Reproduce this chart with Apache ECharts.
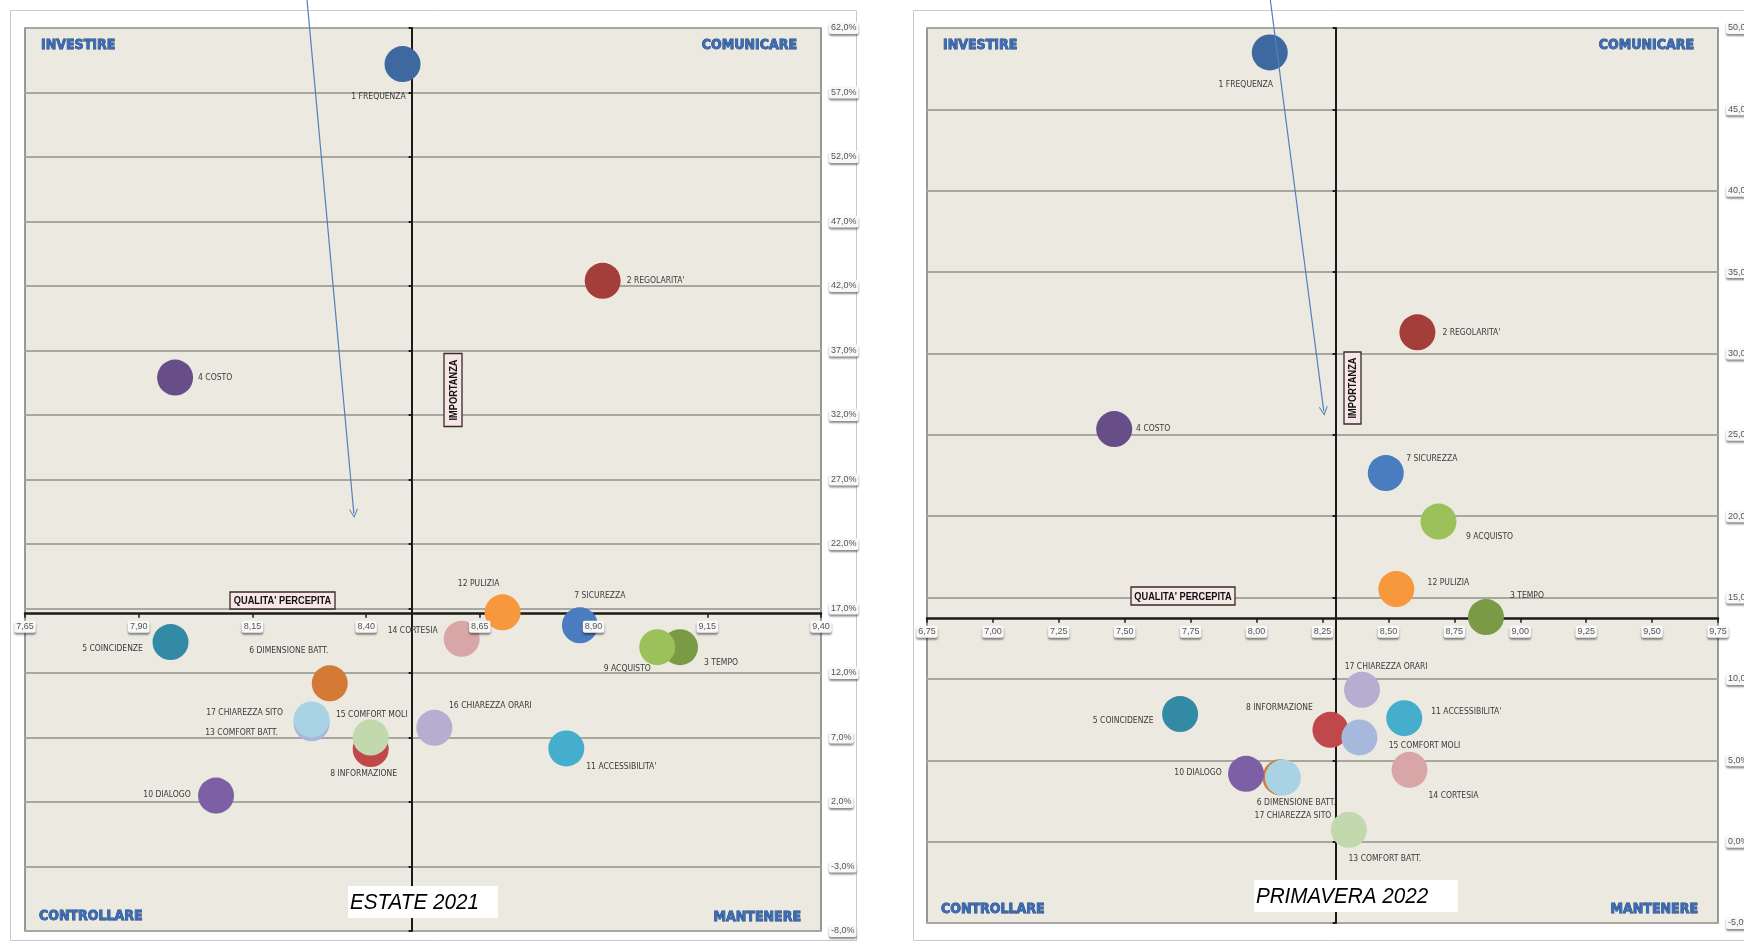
<!DOCTYPE html>
<html>
<head>
<meta charset="utf-8">
<script src="https://cdn.jsdelivr.net/npm/echarts@6/dist/echarts.min.js"></script>
<style>
  html, body { margin: 0; padding: 0; background: #fff; }
  #chart { width: 1744px; height: 942px; }
</style>
</head>
<body>
<div id="chart"></div>
<script>
// ---------- ESTATE 2021: perceived quality (x) vs importance (y, %) ----------
const estateNames = ['1 FREQUENZA', "2 REGOLARITA'", '3 TEMPO', '4 COSTO', '5 COINCIDENZE',
  '6 DIMENSIONE BATT.', '7 SICUREZZA', '8 INFORMAZIONE', '9 ACQUISTO', '10 DIALOGO',
  "11 ACCESSIBILITA'", '12 PULIZIA', '13 COMFORT BATT.', '14 CORTESIA', '15 COMFORT MOLI',
  '16 CHIAREZZA ORARI', '17 CHIAREZZA SITO'];
const estateQuality = [8.48, 8.92, 9.09, 7.98, 7.97, 8.32, 8.87, 8.41, 9.04, 8.07,
  8.84, 8.70, 8.28, 8.61, 8.41, 8.55, 8.28];
const estateImportance = [59.2, 42.4, 14.0, 34.9, 14.4, 11.2, 15.7, 6.1, 14.0, 2.5,
  6.15, 16.7, 8.1, 14.65, 7.0, 7.75, 8.4];
const estateXTicks = [7.65, 7.90, 8.15, 8.40, 8.65, 8.90, 9.15, 9.40];
const estateYTicks = [-8, -3, 2, 7, 12, 17, 22, 27, 32, 37, 42, 47, 52, 57, 62];
const estateCross = [8.50, 16.6];               // quadrant split: quality, importance
const estateArrow = [[8.27, 64.2], [8.373, 24.36]];

// ---------- PRIMAVERA 2022 ----------
const primaveraNames = ['1 FREQUENZA', "2 REGOLARITA'", '3 TEMPO', '4 COSTO', '5 COINCIDENZE',
  '6 DIMENSIONE BATT.', '7 SICUREZZA', '8 INFORMAZIONE', '9 ACQUISTO', '10 DIALOGO',
  "11 ACCESSIBILITA'", '12 PULIZIA', '13 COMFORT BATT.', '14 CORTESIA', '15 COMFORT MOLI',
  '17 CHIAREZZA ORARI', '17 CHIAREZZA SITO'];
const primaveraQuality = [8.05, 8.61, 8.87, 7.46, 7.71, 8.09, 8.49, 8.28, 8.69, 7.96,
  8.56, 8.53, 8.35, 8.58, 8.39, 8.40, 8.10];
const primaveraImportance = [48.5, 31.3, 13.8, 25.35, 7.84, 3.95, 22.65, 6.87, 19.67, 4.17,
  7.59, 15.52, 0.73, 4.41, 6.4, 9.33, 3.94];
const primaveraXTicks = [6.75, 7.00, 7.25, 7.50, 7.75, 8.00, 8.25, 8.50, 8.75, 9.00, 9.25, 9.50, 9.75];
const primaveraYTicks = [-5, 0, 5, 10, 15, 20, 25, 30, 35, 40, 45, 50];
const primaveraCross = [8.30, 13.7];
const primaveraArrow = [[8.052, 51.74], [8.255, 26.45]];

// ---------- styles ----------
const estateColors = {
  '1 FREQUENZA': '#3E69A0', "2 REGOLARITA'": '#A33E3B', '3 TEMPO': '#7A9A45', '4 COSTO': '#684E88',
  '5 COINCIDENZE': '#338AA5', '6 DIMENSIONE BATT.': '#D27A36', '7 SICUREZZA': '#4A7DC0',
  '8 INFORMAZIONE': '#C0474A', '9 ACQUISTO': '#9BC25A', '10 DIALOGO': '#7C5FA5',
  "11 ACCESSIBILITA'": '#45AECD', '12 PULIZIA': '#F7983D', '13 COMFORT BATT.': '#A6B8DC',
  '14 CORTESIA': '#D9A6A8', '15 COMFORT MOLI': '#C4D8AD', '16 CHIAREZZA ORARI': '#B6ADD1',
  '17 CHIAREZZA SITO': '#A9D2E4'
};
const primaveraColors = Object.assign({}, estateColors, {
  '13 COMFORT BATT.': '#C4D8AD', '15 COMFORT MOLI': '#A6B8DC', '17 CHIAREZZA ORARI': '#B6ADD1'
});
// label offset from bubble centre, px
const estateLabelOffset = {
  '1 FREQUENZA': [-24, 33], "2 REGOLARITA'": [53, 0], '3 TEMPO': [41, 16], '4 COSTO': [40, 0],
  '5 COINCIDENZE': [-58, 7], '6 DIMENSIONE BATT.': [-41, -33], '7 SICUREZZA': [20, -29],
  '8 INFORMAZIONE': [-7, 25], '9 ACQUISTO': [-30, 22], '10 DIALOGO': [-49, -1],
  "11 ACCESSIBILITA'": [55, 18], '12 PULIZIA': [-24, -29], '13 COMFORT BATT.': [-70, 9],
  '14 CORTESIA': [-49, -8], '15 COMFORT MOLI': [1, -23], '16 CHIAREZZA ORARI': [56, -22],
  '17 CHIAREZZA SITO': [-67, -7]
};
const primaveraLabelOffset = {
  '1 FREQUENZA': [-24, 32], "2 REGOLARITA'": [54, 0], '3 TEMPO': [41, -21], '4 COSTO': [39, 0],
  '5 COINCIDENZE': [-57, 7], '6 DIMENSIONE BATT.': [16, 25], '7 SICUREZZA': [46, -14],
  '8 INFORMAZIONE': [-51, -22], '9 ACQUISTO': [51, 15], '10 DIALOGO': [-48, -1],
  "11 ACCESSIBILITA'": [62, -6], '12 PULIZIA': [52, -6], '13 COMFORT BATT.': [36, 29],
  '14 CORTESIA': [44, 26], '15 COMFORT MOLI': [65, 8], '17 CHIAREZZA ORARI': [24, -23],
  '17 CHIAREZZA SITO': [10, 38]
};

const NARROW = '"Liberation Sans Narrow", "DejaVu Sans Condensed", "Liberation Sans", sans-serif';
const SANS = '"Liberation Sans", Arial, sans-serif';

const gridA = { left: 25, top: 28, width: 796, height: 903 };
const gridB = { left: 927, top: 28, width: 791, height: 895 };

const fmtX = v => v.toFixed(2).replace('.', ',');
const fmtY = v => v.toFixed(1).replace('.', ',') + '%';

const tabLabel = {
  color: '#555', fontSize: 9, fontFamily: SANS,
  backgroundColor: '#f8f8f8', borderRadius: 2, padding: [1, 2, 2, 2],
  shadowColor: 'rgba(0,0,0,0.45)', shadowBlur: 2, shadowOffsetY: 2
};

function axesFor(gridIndex, g, xt, yt, cross) {
  const xMin = xt[0], xMax = xt[xt.length - 1], xInt = xt[1] - xt[0];
  const yMin = yt[0], yMax = yt[yt.length - 1], yInt = yt[1] - yt[0];
  const xOff = -g.height * (cross[1] - yMin) / (yMax - yMin);
  const yOff = -g.width * (cross[0] - xMin) / (xMax - xMin);
  const xBase = { type: 'value', gridIndex, min: xMin, max: xMax, interval: xInt,
    position: 'bottom', offset: xOff, splitLine: { show: false } };
  const yBase = { type: 'value', gridIndex, min: yMin, max: yMax, interval: yInt };
  return {
    x: [
      Object.assign({}, xBase, {
        axisLine: { show: true, onZero: false, lineStyle: { color: '#1a1a1a', width: 2.5 } },
        axisTick: { show: true, length: 4, lineStyle: { color: '#1a1a1a', width: 1.5 } },
        axisLabel: { show: false }
      }),
      Object.assign({}, xBase, {
        z: 10,
        axisLine: { show: false }, axisTick: { show: false },
        axisLabel: Object.assign({ show: true, margin: 7, showMinLabel: true, showMaxLabel: true,
          formatter: fmtX }, tabLabel)
      })
    ],
    y: [
      Object.assign({}, yBase, {
        position: 'right',
        axisLine: { show: false }, axisTick: { show: false },
        axisLabel: Object.assign({ margin: 8, align: 'left', showMinLabel: true, showMaxLabel: true,
          formatter: fmtY }, tabLabel),
        splitLine: { show: true, lineStyle: { color: '#A8A79F', width: 2 } }
      }),
      Object.assign({}, yBase, {
        position: 'left', offset: yOff,
        axisLine: { show: true, onZero: false, lineStyle: { color: '#1a1a1a', width: 2 } },
        axisTick: { show: true, inside: false, length: 3, lineStyle: { color: '#1a1a1a', width: 2 } },
        axisLabel: { show: false }, splitLine: { show: false }
      })
    ]
  };
}

function bubbles(names, q, imp, colors, offsets, xi, yi) {
  return {
    type: 'scatter', xAxisIndex: xi, yAxisIndex: yi, symbolSize: 36,
    emphasis: { disabled: true }, z: 3,
    label: { show: true, position: 'inside', formatter: '{b}', color: '#3a3a3a',
      fontSize: 8.5, fontFamily: NARROW, align: 'center', verticalAlign: 'middle' },
    data: names.map((n, i) => ({
      name: n, value: [q[i], imp[i]],
      itemStyle: { color: colors[n], opacity: 1 },
      label: { offset: offsets[n] }
    }))
  };
}

function arrow(coords, xi, yi) {
  return {
    type: 'lines', coordinateSystem: 'cartesian2d', xAxisIndex: xi, yAxisIndex: yi,
    clip: false, z: 4, silent: true,
    symbol: ['none', 'path://M0,10 L5,0 L10,10 L8.8,10 L5,2.4 L1.2,10 Z'], symbolSize: 9,
    lineStyle: { color: '#4F81BD', width: 1.2, opacity: 1 },
    data: [{ coords }]
  };
}

function quadrantText(text, x, y, align) {
  return { type: 'text', x, y, z: 20, silent: true,
    style: { text, align, verticalAlign: 'middle', fill: '#3A6DB5', stroke: '#1C3E73', lineWidth: 0.8,
      font: 'bold 14px ' + NARROW } };
}
function boxedLabel(text, cx, cy, w, h, vertical) {
  return { type: 'group', x: cx, y: cy, rotation: vertical ? Math.PI / 2 : 0, z: 20, silent: true,
    children: [
      { type: 'rect', z: 20, shape: { x: -w / 2, y: -h / 2, width: w, height: h },
        style: { fill: '#F7E6E6', stroke: '#3b2a2a', lineWidth: 1.3 } },
      { type: 'text', z: 21, scaleX: 0.84, style: { text, x: 0, y: 0.5, align: 'center', verticalAlign: 'middle',
        fill: '#111', font: 'bold 11px ' + SANS } }
    ] };
}
function seasonTitle(text, x, y, w, h) {
  return { type: 'group', x, y, z: 20, silent: true, children: [
    { type: 'rect', z: 20, shape: { x: 0, y: 0, width: w, height: h }, style: { fill: '#fff' } },
    { type: 'text', z: 21, scaleX: 0.94, style: { text, x: 2, y: h / 2 + 1, align: 'left', verticalAlign: 'middle',
      fill: '#000', font: 'italic 22px ' + SANS } }
  ] };
}

const A = axesFor(0, gridA, estateXTicks, estateYTicks, estateCross);
const B = axesFor(1, gridB, primaveraXTicks, primaveraYTicks, primaveraCross);

const gridStyle = { show: true, backgroundColor: '#ECE9E0', borderColor: '#7A7A7A', borderWidth: 1.5,
  containLabel: false, outerBoundsMode: 'none' };

const option = {
  animation: false,
  backgroundColor: '#ffffff',
  grid: [Object.assign({}, gridStyle, gridA), Object.assign({}, gridStyle, gridB)],
  xAxis: A.x.concat(B.x),
  yAxis: A.y.concat(B.y),
  series: [
    bubbles(estateNames, estateQuality, estateImportance, estateColors, estateLabelOffset, 0, 0),
    arrow(estateArrow, 0, 0),
    bubbles(primaveraNames, primaveraQuality, primaveraImportance, primaveraColors, primaveraLabelOffset, 2, 2),
    arrow(primaveraArrow, 2, 2)
  ],
  graphic: [
    { type: 'rect', z: -10, silent: true, shape: { x: 10.5, y: 10.5, width: 846, height: 930 },
      style: { fill: '#fff', stroke: '#C3CBD4', lineWidth: 1 } },
    { type: 'rect', z: -10, silent: true, shape: { x: 913.5, y: 10.5, width: 900, height: 930 },
      style: { fill: '#fff', stroke: '#C3CBD4', lineWidth: 1 } },
    quadrantText('INVESTIRE', 41, 45, 'left'),
    quadrantText('COMUNICARE', 797, 45, 'right'),
    quadrantText('CONTROLLARE', 39, 916, 'left'),
    quadrantText('MANTENERE', 801, 917, 'right'),
    quadrantText('INVESTIRE', 943, 45, 'left'),
    quadrantText('COMUNICARE', 1694, 45, 'right'),
    quadrantText('CONTROLLARE', 941, 909, 'left'),
    quadrantText('MANTENERE', 1698, 909, 'right'),
    boxedLabel("QUALITA' PERCEPITA", 282.5, 600.5, 105, 17, false),
    boxedLabel('IMPORTANZA', 453, 390, 73, 18, true),
    boxedLabel("QUALITA' PERCEPITA", 1183, 596, 104, 18, false),
    boxedLabel('IMPORTANZA', 1352.5, 388, 72, 17, true),
    seasonTitle('ESTATE 2021', 348, 886, 150, 32),
    seasonTitle('PRIMAVERA 2022', 1254, 880, 204, 32)
  ]
};

const chart = echarts.init(document.getElementById('chart'), null, { renderer: 'canvas' });
chart.setOption(option);
</script>
</body>
</html>
